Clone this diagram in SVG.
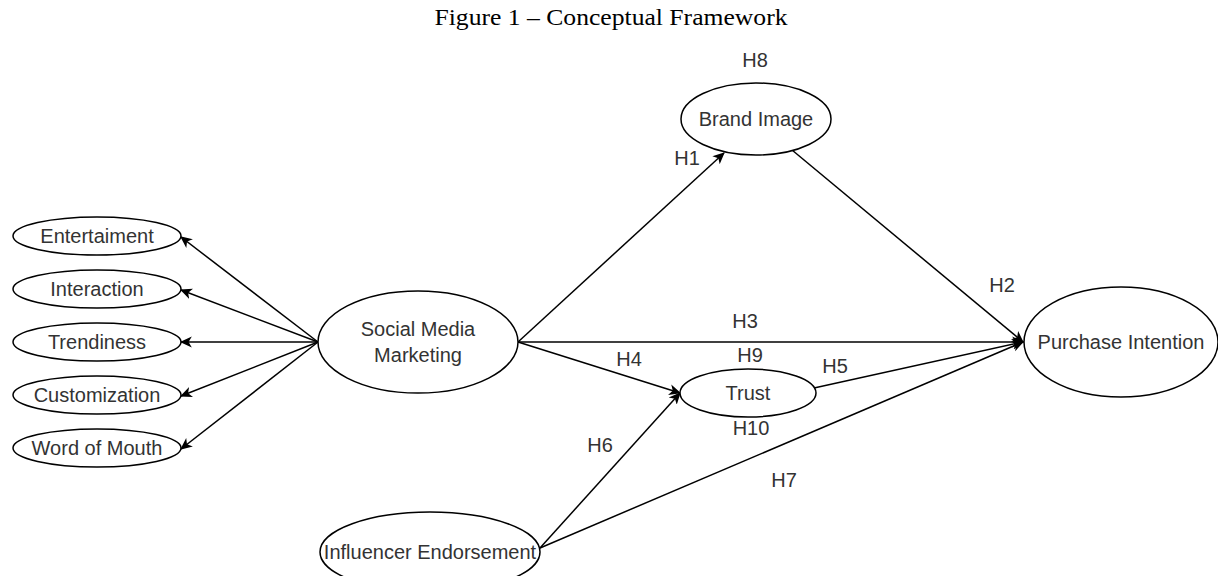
<svg xmlns="http://www.w3.org/2000/svg" width="1218" height="576" viewBox="0 0 1218 576">
<style>
.n{fill:#fff;stroke:#000;stroke-width:1.5}
.t{font-family:"Liberation Sans",Arial,sans-serif;font-size:20px;fill:#333;text-anchor:middle}
.c{fill:none;stroke:#000;stroke-width:1.5}
.title{font-family:"Liberation Serif","Times New Roman",serif;font-size:24px;fill:#000;text-anchor:middle}
</style>
<defs>
<marker id="a" viewBox="0 0 12 12" refX="10" refY="6" markerWidth="13" markerHeight="13" markerUnits="userSpaceOnUse" orient="auto">
<path d="M0,1 L11,6 L0,11 L3,6 Z" fill="#000"/>
</marker>
</defs>
<rect width="1218" height="576" fill="#fff"/>
<text class="title" x="611" y="25" textLength="353" lengthAdjust="spacingAndGlyphs">Figure 1 – Conceptual Framework</text>
<g id="connectors">
<line class="c" x1="318" y1="342" x2="181" y2="237" marker-end="url(#a)"/>
<line class="c" x1="318" y1="342" x2="181" y2="290" marker-end="url(#a)"/>
<line class="c" x1="318" y1="342" x2="181" y2="342" marker-end="url(#a)"/>
<line class="c" x1="318" y1="342" x2="181" y2="396" marker-end="url(#a)"/>
<line class="c" x1="318" y1="342" x2="181" y2="449" marker-end="url(#a)"/>
<line class="c" x1="518" y1="342" x2="724" y2="153" marker-end="url(#a)"/>
<line class="c" x1="792" y1="150" x2="1023" y2="342" marker-end="url(#a)"/>
<line class="c" x1="518" y1="342" x2="1023" y2="342" marker-end="url(#a)"/>
<line class="c" x1="518" y1="342" x2="680" y2="393" marker-end="url(#a)"/>
<line class="c" x1="814" y1="388" x2="1023" y2="342" marker-end="url(#a)"/>
<line class="c" x1="540" y1="548" x2="680" y2="393" marker-end="url(#a)"/>
<line class="c" x1="540" y1="548" x2="1023" y2="342" marker-end="url(#a)"/>
<text class="t" x="687" y="165">H1</text>
<text class="t" x="1002" y="292">H2</text>
<text class="t" x="745" y="328">H3</text>
<text class="t" x="629" y="366">H4</text>
<text class="t" x="835" y="373">H5</text>
<text class="t" x="600" y="452">H6</text>
<text class="t" x="784" y="487">H7</text>
<text class="t" x="755" y="67">H8</text>
<text class="t" x="750" y="362">H9</text>
<text class="t" x="751" y="435">H10</text>
</g>
<g id="entertaiment"><ellipse class="n" cx="97" cy="236" rx="84" ry="19"/><text class="t" x="97" y="243">Entertaiment</text></g>
<g id="interaction"><ellipse class="n" cx="97" cy="289" rx="84" ry="19"/><text class="t" x="97" y="296">Interaction</text></g>
<g id="trendiness"><ellipse class="n" cx="97" cy="342" rx="84" ry="19"/><text class="t" x="97" y="349">Trendiness</text></g>
<g id="customization"><ellipse class="n" cx="97" cy="395" rx="84" ry="19"/><text class="t" x="97" y="402">Customization</text></g>
<g id="word-of-mouth"><ellipse class="n" cx="97" cy="448" rx="84" ry="19"/><text class="t" x="97" y="455">Word of Mouth</text></g>
<g id="social-media-marketing"><ellipse class="n" cx="418" cy="342" rx="100" ry="51"/><text class="t" x="418" y="336">Social Media</text><text class="t" x="418" y="362">Marketing</text></g>
<g id="brand-image"><ellipse class="n" cx="756" cy="119" rx="75" ry="36"/><text class="t" x="756" y="126">Brand Image</text></g>
<g id="trust"><ellipse class="n" cx="748" cy="393" rx="68" ry="24"/><text class="t" x="748" y="400">Trust</text></g>
<g id="purchase-intention"><ellipse class="n" cx="1121" cy="342" rx="97" ry="55"/><text class="t" x="1121" y="349">Purchase Intention</text></g>
<g id="influencer-endorsement"><ellipse class="n" cx="430" cy="552" rx="110" ry="40"/><text class="t" x="430" y="559">Influencer Endorsement</text></g>
</svg>
